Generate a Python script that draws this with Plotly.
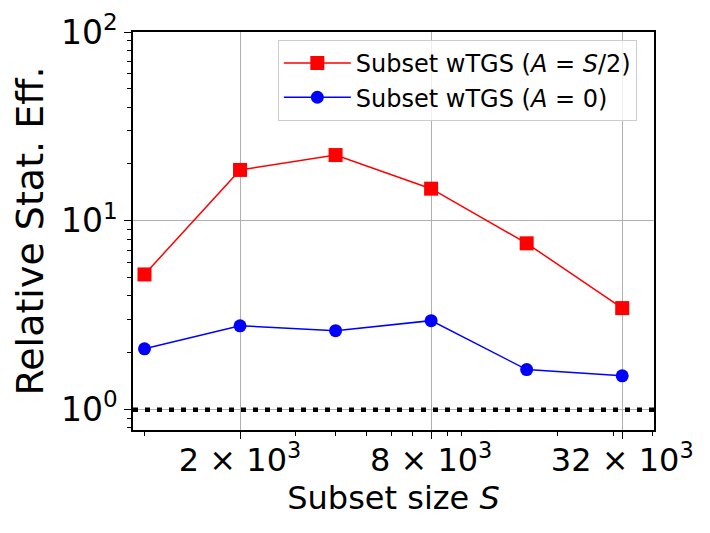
import plotly.graph_objects as go
import numpy as np

subset_sizes = [1000, 2000, 4000, 8000, 16000, 32000]
eff_half = [5.2, 18.6, 22.3, 14.8, 7.6, 3.45]
eff_zero = [2.1, 2.78, 2.62, 2.96, 1.63, 1.51]
x_tickvals = [2000, 8000, 32000]
x_ticktext = ["2 × 10<sup>3</sup>", "8 × 10<sup>3</sup>", "32 × 10<sup>3</sup>"]
y_tickvals = [1, 10, 100]
y_ticktext = ["10<sup>0</sup>", "10<sup>1</sup>", "10<sup>2</sup>"]
baseline = 1.0

fig = go.Figure()
fig.add_trace(go.Scatter(
    x=subset_sizes, y=eff_half, mode="lines+markers",
    name="Subset wTGS (<i>A</i> = <i>S</i>/2)",
    line=dict(color="#ff0000", width=1.5),
    marker=dict(symbol="square", size=14, color="#ff0000"),
))
fig.add_trace(go.Scatter(
    x=subset_sizes, y=eff_zero, mode="lines+markers",
    name="Subset wTGS (<i>A</i> = 0)",
    line=dict(color="#0000ff", width=1.5),
    marker=dict(symbol="circle", size=13, color="#0000ff"),
))
fig.add_shape(type="line", xref="paper", x0=0, x1=1, yref="y", y0=baseline, y1=baseline,
              line=dict(color="black", width=4.5, dash="5px,7px"))

x_minor = [v for d in [1000, 10000] for v in [d * k for k in range(1, 10)]] + [40000]
y_minor = [v for d in [0.1, 1, 10] for v in [d * k for k in range(2, 10)]]
y_minor = [v for v in y_minor if v > 0.75]

fig.update_layout(
    width=702, height=525,
    margin=dict(l=125, r=56, t=24, b=103),
    paper_bgcolor="white", plot_bgcolor="white",
    font=dict(family="DejaVu Sans", color="black"),
    showlegend=True,
    legend=dict(x=0.278, y=0.98, xanchor="left", yanchor="top",
                bgcolor="rgba(255,255,255,0.8)", bordercolor="#cccccc", borderwidth=1,
                font=dict(size=24), itemwidth=67, tracegroupgap=0),
    xaxis=dict(
        type="log", range=[np.log10(920), np.log10(40300)], automargin=False,
        tickmode="array", tickvals=x_tickvals, ticktext=x_ticktext,
        tickfont=dict(size=32), ticks="outside", ticklen=7, tickwidth=1.2, tickcolor="black",
        ticklabelstandoff=-6,
        showgrid=True, gridcolor="#b0b0b0", gridwidth=1,
        showline=True, linecolor="black", linewidth=1.5, mirror=True,
        minor=dict(tickmode="array", tickvals=x_minor, ticks="outside", ticklen=4,
                   tickcolor="black", tickwidth=1, showgrid=False),
        title=dict(text="Subset size <i>S</i>", font=dict(size=32), standoff=2),
        zeroline=False,
    ),
    yaxis=dict(
        type="log", range=[np.log10(0.78), 2], automargin=False,
        tickmode="array", tickvals=y_tickvals, ticktext=y_ticktext,
        tickfont=dict(size=33), ticks="outside", ticklen=7, tickwidth=1.2, tickcolor="black",
        showgrid=True, gridcolor="#b0b0b0", gridwidth=1,
        showline=True, linecolor="black", linewidth=1.5, mirror=True,
        minor=dict(tickmode="array", tickvals=y_minor, ticks="outside", ticklen=4,
                   tickcolor="black", tickwidth=1, showgrid=False),
        title=dict(text="Relative Stat. Eff.", font=dict(size=38), standoff=8),
        zeroline=False,
    ),
)

fig.write_html("out.html")
